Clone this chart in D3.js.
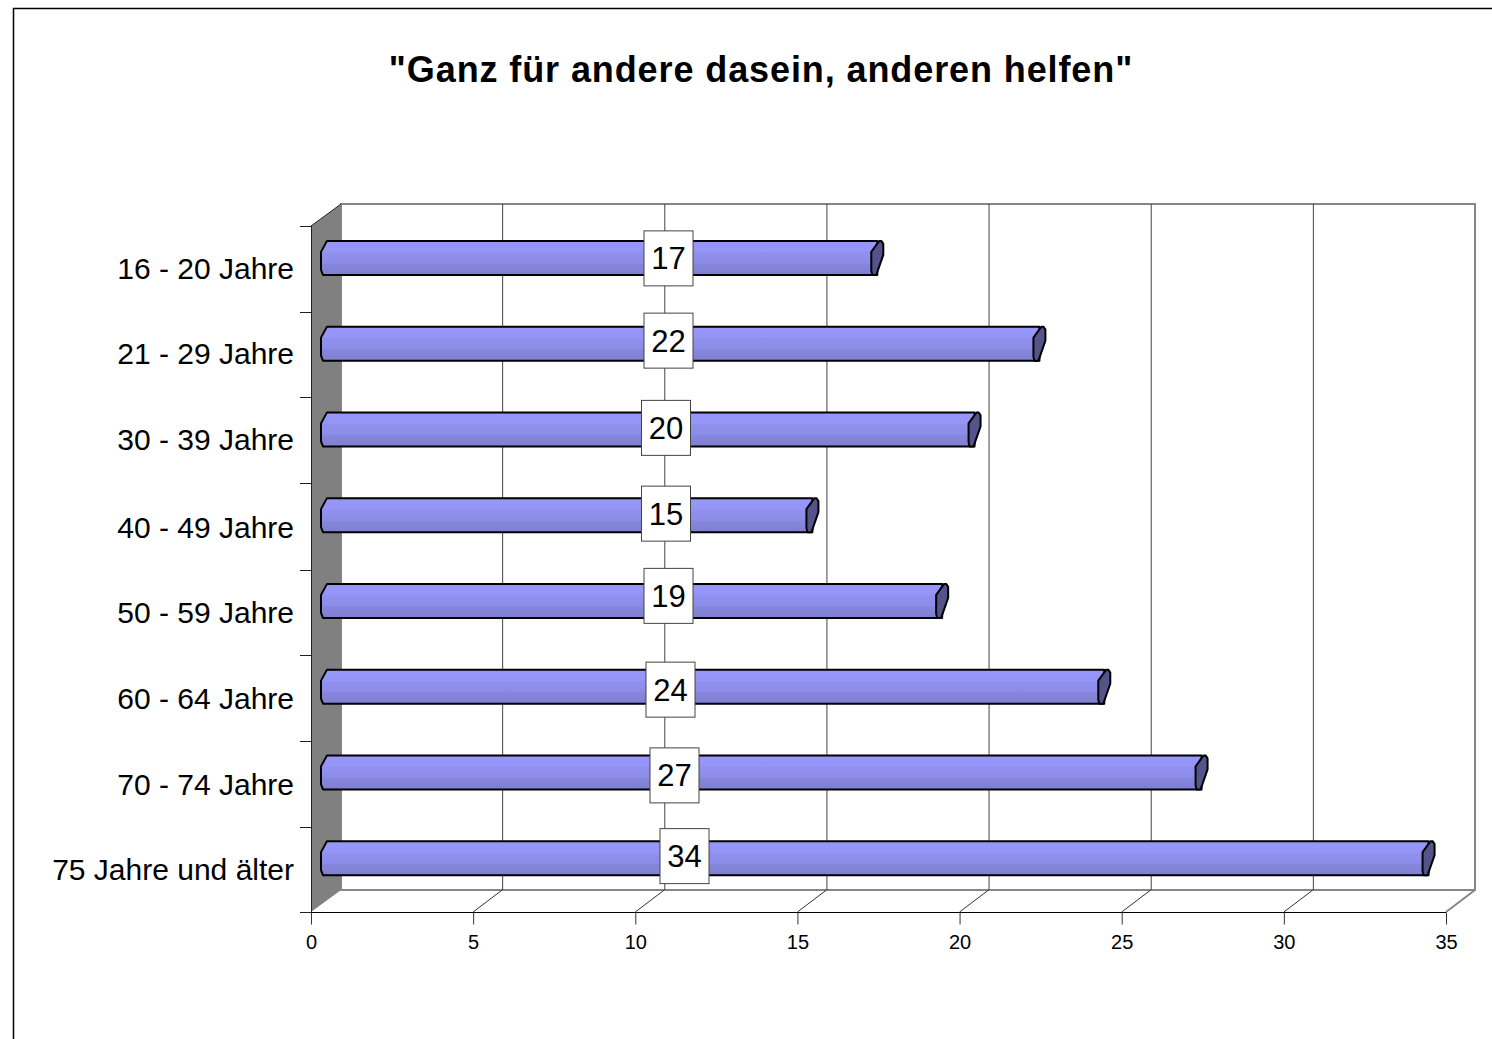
<!DOCTYPE html>
<html><head><meta charset="utf-8">
<script src="https://cdn.jsdelivr.net/npm/d3@7"></script>
<style>html,body{margin:0;padding:0;background:#fff}svg{display:block}text{font-family:"Liberation Sans",Arial,sans-serif;fill:#000}</style>
</head><body><svg id="c" width="1492" height="1039"></svg>
<script>
const titleText='"Ganz für andere dasein, anderen helfen"';
const categories=["16 - 20 Jahre","21 - 29 Jahre","30 - 39 Jahre","40 - 49 Jahre","50 - 59 Jahre","60 - 64 Jahre","70 - 74 Jahre","75 Jahre und älter"];
const values=[17,22,20,15,19,24,27,34];
const tickValues=[0,5,10,15,20,25,30,35];
// hand-placed data-label boxes in the original (offset from the common label anchor)
const labelDx=[0,0,-2.5,-2.5,0,2,6,16];
const labelDy=[-10.5,-14,-12.5,-12.5,-16,-8,-8,-13];
// small per-row nudges of the original's pixel-snapped rows
const rowNudge=[0,-1,-0.5,1.5,1,1,1.5,0.5];

const svg=d3.select("#c");
const depthX=30,depthY=22;
const x=d3.scaleLinear().domain([0,35]).range([311,1446]);
const y=d3.scaleBand().domain(categories).range([226,912]);
const plotTop=226,bot=912,backTop=plotTop-depthY,backBot=bot-depthY;

const defs=svg.append("defs");
const g=defs.append("linearGradient").attr("id","barG").attr("x1",0).attr("y1",0).attr("x2",0).attr("y2",1);
[[0,"#8f8ff0"],[.06,"#9797fb"],[.33,"#9595f8"],[.34,"#9090ee"],[.66,"#8c8ce8"],[.67,"#8686dc"],[1,"#7f7fd2"]]
 .forEach(([o,c])=>g.append("stop").attr("offset",o).attr("stop-color",c));

// frame
svg.append("path").attr("d","M13.5,1039V8.5H1492").attr("fill","none").attr("stroke","#000").attr("stroke-width",1.5);

svg.append("text").attr("x",761).attr("y",81.5).attr("text-anchor","middle").attr("font-size",36).attr("letter-spacing",0.9).attr("font-weight","bold").text(titleText);

// back wall and gridlines
svg.append("rect").attr("x",x(0)+depthX).attr("y",backTop).attr("width",x(35)-x(0)-1).attr("height",backBot-backTop)
 .attr("fill","#fff").attr("stroke","#868686").attr("stroke-width",2);
svg.selectAll(".grid").data(tickValues.slice(1,-1)).join("line").attr("class","grid")
 .attr("x1",d=>x(d)+depthX-.5).attr("x2",d=>x(d)+depthX-.5).attr("y1",backTop).attr("y2",backBot).attr("stroke","#444").attr("stroke-width",1);
// side wall
svg.append("path").attr("d",`M${x(0)},${plotTop}L${x(0)+depthX},${backTop}V${backBot}L${x(0)},${bot}Z`).attr("fill","#808080");
svg.append("path").attr("d",`M${x(0)},${plotTop}L${x(0)+depthX},${backTop}`).attr("stroke","#222").attr("fill","none");
// floor diagonals
svg.selectAll(".diag").data(tickValues.slice(1)).join("line").attr("class","diag")
 .attr("x1",d=>x(d)).attr("y1",bot).attr("x2",d=>x(d)+depthX-1).attr("y2",backBot)
 .attr("stroke",d=>d===35?"#868686":"#333").attr("stroke-width",d=>d===35?2:1);

// value axis
const ax=svg.append("g").attr("transform",`translate(0,${bot+.5})`).call(d3.axisBottom(x).tickValues(tickValues).tickSize(12).tickPadding(10).tickFormat(d3.format("d")));
ax.select(".domain").attr("stroke","#000").attr("d",`M${x(0)-11},0H${x(35)}`);
ax.selectAll(".tick line").attr("stroke","#333");
ax.selectAll("text").attr("font-size",20).attr("font-family",'"Liberation Sans",Arial,sans-serif').attr("fill","#000");

// category axis
svg.append("path").attr("d",`M${x(0)+.5},${plotTop}V${bot}`).attr("stroke","#222");
const edges=categories.map((c,i)=>y(c)+(i?rowNudge[i-1]*.6:0)).concat([bot]);
svg.selectAll(".ct").data(edges).join("line").attr("class","ct")
 .attr("x1",x(0)-11).attr("x2",x(0)).attr("y1",d=>Math.round(d)+.5).attr("y2",d=>Math.round(d)+.5).attr("stroke","#222");
svg.selectAll(".cl").data(categories).join("text").attr("class","cl")
 .attr("x",294).attr("y",(c,i)=>y(c)+y.bandwidth()/2+10.5+rowNudge[i]).attr("text-anchor","end").attr("font-size",30).text(c=>c);

// bars
const barOff=9,h=34,barLift=11;
const cy=c=>y(c)+y.bandwidth()/2-barLift;
const bars=svg.selectAll(".bar").data(values.map((v,i)=>({v,c:categories[i],i}))).join("g").attr("class","bar")
 .attr("transform",d=>`translate(0,${cy(d.c)-h/2})`);
bars.append("path").attr("fill","url(#barG)").attr("stroke","#000").attr("stroke-width",2).attr("stroke-linejoin","round")
 .attr("d",d=>{const a=x(0)+barOff+1,b=x(d.v)+barOff+6;return `M${a+6},0H${b}L${b},${h}H${a+2}L${a},${h-5}V11Z`;});
bars.append("path").attr("fill","#54548a").attr("stroke","#000").attr("stroke-width",2).attr("stroke-linejoin","round")
 .attr("d",d=>{const b=x(d.v)+barOff;return `M${b},11L${b+8},0H${b+10}L${b+12},3V14L${b+5},${h}H${b+1}L${b},${h-4}Z`;});

// data labels
const lbl=svg.selectAll(".lb").data(values.map((v,i)=>({v,c:categories[i],i}))).join("g").attr("class","lb")
 .attr("transform",d=>`translate(${668.5+labelDx[d.i]},${y(d.c)+y.bandwidth()/2+labelDy[d.i]})`);
lbl.append("rect").attr("x",-24.5).attr("y",-27.5).attr("width",49).attr("height",55).attr("fill","#fff").attr("stroke","#444").attr("stroke-width",1);
lbl.append("text").attr("text-anchor","middle").attr("y",11).attr("font-size",31).text(d=>d.v);
</script></body></html>
